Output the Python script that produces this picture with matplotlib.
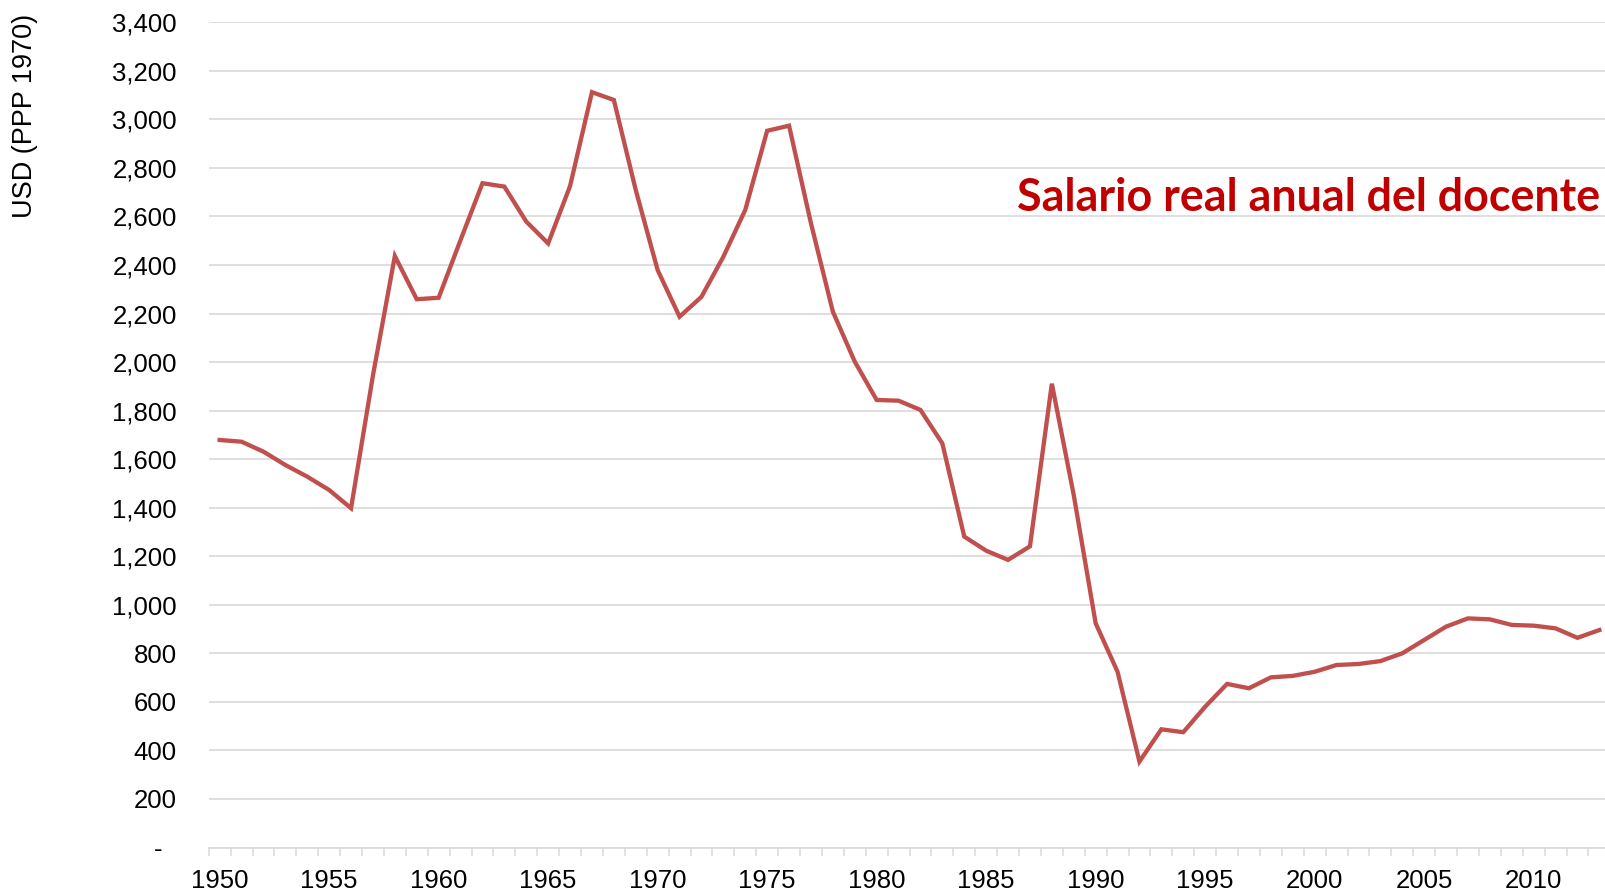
import matplotlib
matplotlib.use("Agg")
import matplotlib.pyplot as plt
from matplotlib.ticker import FixedLocator, FuncFormatter

years = list(range(1950, 2014))
salario = [1679, 1672, 1631, 1576, 1528, 1473, 1398, 1945, 2437, 2259,
           2265, 2503, 2737, 2723, 2579, 2489, 2725, 3112, 3080, 2709,
           2379, 2187, 2269, 2434, 2627, 2953, 2974, 2572, 2208, 2002,
           1844, 1841, 1803, 1665, 1281, 1223, 1185, 1241, 1911, 1452,
           924, 724, 354, 487, 475, 580, 674, 656, 701, 707,
           724, 752, 756, 768, 800, 855, 910, 944, 940, 917,
           914, 903, 864, 896]
y_ticks = list(range(0, 3401, 200))
x_labels = list(range(1950, 2011, 5))
title_text = "Salario real anual del docente"
ylabel_text = "USD (PPP 1970)"

W, H = 1606, 894
fig = plt.figure(figsize=(W / 100, H / 100), dpi=100)
left, right = 208.7, 1610.3
top, bottom = 22.3, 847.5
ax = fig.add_axes([left / W, 1 - bottom / H, (right - left) / W, (bottom - top) / H])

ax.plot(years, salario, color="#C0504D", lw=3.1, solid_joinstyle="miter", zorder=3)

ax.set_xlim(1949.5, 2013.5)
ax.set_ylim(0, 3400)

ax.yaxis.set_major_locator(FixedLocator(y_ticks))
ax.yaxis.set_major_formatter(FuncFormatter(lambda v, p: "-  " if v == 0 else f"{int(v):,}"))
ax.grid(axis="y", color="#D9D9D9", lw=1.2, zorder=0)
ax.set_axisbelow(True)

ax.xaxis.set_major_locator(FixedLocator(x_labels))
ax.xaxis.set_minor_locator(FixedLocator([y - 0.5 for y in range(1950, 2015)]))
ax.tick_params(axis="x", which="major", length=0, pad=15.5, labelsize=18.5)
ax.tick_params(axis="x", which="minor", length=5.8, width=1.1, color="#D9D9D9", direction="out")
ax.tick_params(axis="y", which="major", length=0, pad=23, labelsize=18.5)
for lab in ax.get_xticklabels() + ax.get_yticklabels():
    lab.set_fontfamily("Liberation Sans")

for s in ["top", "right", "left"]:
    ax.spines[s].set_visible(False)
ax.spines["bottom"].set_color("#D9D9D9")
ax.spines["bottom"].set_linewidth(1.2)

fig.text(25 / W, 1 - 116 / H, ylabel_text, rotation=90, ha="center", va="center",
         fontsize=19.5, fontfamily="Liberation Sans")

fig.text(1017 / W, 1 - 210.7 / H, title_text, ha="left", va="baseline",
         fontsize=32.3, fontweight="bold", color="#C00000", fontfamily="Lato")

fig.savefig("out.png", dpi=100)
